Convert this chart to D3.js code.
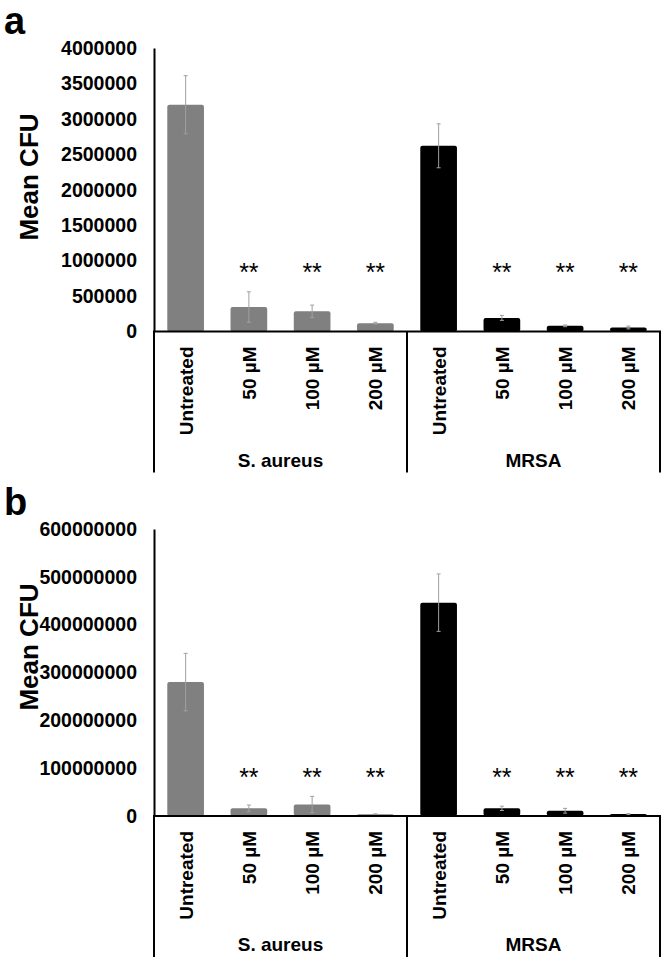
<!DOCTYPE html>
<html><head><meta charset="utf-8">
<script src="https://cdn.jsdelivr.net/npm/d3@7"></script>
<style>
html,body{margin:0;padding:0;background:#fff;}
text{font-family:"Liberation Sans",Arial,sans-serif;}
</style></head>
<body>
<script>
const categories = ["Untreated","50 µM","100 µM","200 µM","Untreated","50 µM","100 µM","200 µM"];
const groups = ["S. aureus","MRSA"];
const groupOf = [0,0,0,0,1,1,1,1];
const signif = [false,true,true,true,false,true,true,true];

const valuesA = [3200000, 345000, 285000, 118000, 2620000, 192000, 80000, 57000];
const errorsA = [410000, 215000, 88000, 12000, 310000, 35000, 12000, 20000];
const ticksA = [0,500000,1000000,1500000,2000000,2500000,3000000,3500000,4000000];
const sigLevelA = 712000;

const valuesB = [280000000, 16000000, 24000000, 3500000, 446000000, 16000000, 11000000, 4000000];
const errorsB = [60000000, 7000000, 17000000, 1000000, 60000000, 4500000, 5000000, 1000000];
const ticksB = [0,100000000,200000000,300000000,400000000,500000000,600000000];
const sigLevelB = 63000000;

const W = 666, H = 960;
const svg = d3.select("body").append("svg").attr("width",W).attr("height",H);

function panel(letter, values, errors, ticks, sigLevel, top, base, letterY, ylabY){
  const g = svg.append("g");
  const x = d3.scaleBand().domain(d3.range(categories.length)).range([154,660]).paddingInner(0.42).paddingOuter(0.21);
  const y = d3.scaleLinear().domain([0, d3.max(ticks)]).range([base, top]);

  g.append("text").attr("x",4).attr("y",letterY).attr("font-size",38).attr("font-weight","bold").text(letter);

  // y-axis (no tick marks)
  const yAxis = d3.axisLeft(y).tickValues(ticks).tickSize(0).tickPadding(17).tickFormat(d3.format("d"));
  const ya = g.append("g").attr("transform","translate(154,0)").call(yAxis);
  ya.select(".domain").attr("stroke","#000").attr("stroke-width",2);
  ya.selectAll("text").attr("font-size",19.5).attr("font-weight","bold").attr("fill","#000")
    .attr("font-family","Liberation Sans, Arial, sans-serif");

  g.append("text").attr("transform",`translate(38,${ylabY}) rotate(-90)`).attr("text-anchor","middle")
    .attr("font-size",26).attr("font-weight","bold").text("Mean CFU");

  // bars
  g.selectAll("rect.bar").data(values).join("rect").attr("class","bar")
    .attr("x",(d,i)=>x(i)).attr("width",x.bandwidth())
    .attr("y",d=>y(d)).attr("height",d=>base - y(d)).attr("rx",2)
    .attr("fill",(d,i)=>groupOf[i]===0?"#808080":"#000");

  // error bars
  const cx = i => x(i)+x.bandwidth()/2;
  const eb = g.selectAll("g.err").data(values).join("g").attr("class","err");
  eb.append("line").attr("x1",(d,i)=>cx(i)).attr("x2",(d,i)=>cx(i))
    .attr("y1",(d,i)=>y(d+errors[i])).attr("y2",(d,i)=>y(Math.max(0,d-errors[i])))
    .attr("stroke","#a0a0a0").attr("stroke-width",1);
  [1,-1].forEach(s=>{
    eb.append("line").attr("x1",(d,i)=>cx(i)-2).attr("x2",(d,i)=>cx(i)+2)
      .attr("y1",(d,i)=>y(Math.max(0,d+s*errors[i]))).attr("y2",(d,i)=>y(Math.max(0,d+s*errors[i])))
      .attr("stroke","#a0a0a0").attr("stroke-width",1);
  });

  // significance
  g.selectAll("text.sig").data(d3.range(categories.length).filter(i=>signif[i])).join("text").attr("class","sig")
    .attr("x",i=>cx(i)).attr("y",y(sigLevel))
    .attr("text-anchor","middle").attr("font-size",25).text("**");

  // x axis line + group separators
  g.append("line").attr("x1",153).attr("x2",661).attr("y1",base).attr("y2",base).attr("stroke","#000").attr("stroke-width",2);
  const sepX = [154, (x(3)+x.bandwidth()+x(4))/2, 660];
  g.selectAll("line.sep").data(sepX).join("line").attr("class","sep")
    .attr("x1",d=>d).attr("x2",d=>d).attr("y1",base).attr("y2",base+141)
    .attr("stroke","#000").attr("stroke-width",2);

  // category labels
  g.selectAll("text.cat").data(categories).join("text").attr("class","cat")
    .attr("transform",(d,i)=>`translate(${cx(i)+7},${base+15}) rotate(-90)`)
    .attr("text-anchor","end").attr("font-size",19).attr("font-weight","bold").text(d=>d);

  // group labels
  g.selectAll("text.grp").data(groups).join("text").attr("class","grp")
    .attr("x",(d,gi)=>(sepX[gi]+sepX[gi+1])/2).attr("y",base+135)
    .attr("text-anchor","middle").attr("font-size",19).attr("font-weight","bold").text(d=>d);
}

panel("a", valuesA, errorsA, ticksA, sigLevelA, 48, 331.5, 34, 177);
panel("b", valuesB, errorsB, ticksB, sigLevelB, 529, 816, 515, 647);
</script>
</body></html>
